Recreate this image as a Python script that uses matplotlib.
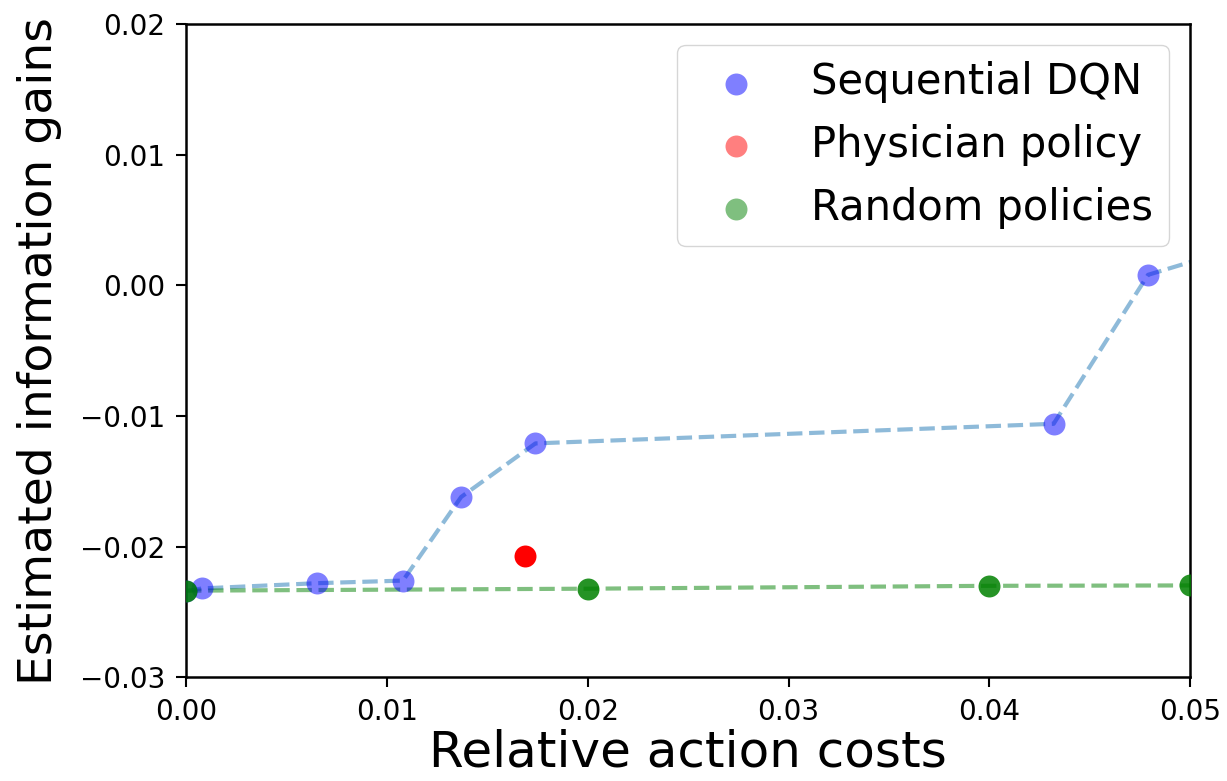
import matplotlib
matplotlib.use("Agg")
import matplotlib.pyplot as plt

# Sequential DQN (last point lies just past the x limit)
dqn_cost = [0.0, 0.0008, 0.0065, 0.0108, 0.0137, 0.0174, 0.0432, 0.0479, 0.055]
dqn_gain = [-0.0234, -0.0232, -0.0228, -0.0226, -0.0162, -0.0121, -0.0106, 0.0008, 0.0041]

# physician policy
phys_cost = [0.0169]
phys_gain = [-0.0207]

# random policies
rand_cost = [0.0, 0.02, 0.04, 0.05]
rand_gain = [-0.02337, -0.02322, -0.02300, -0.02297]

fig = plt.figure(figsize=(12.27, 7.81), dpi=100)
ax = fig.add_axes([0.1516, 0.1328, 0.8184, 0.8365])

ax.plot(dqn_cost, dqn_gain, '--', color='C0', alpha=0.5, lw=3)
ax.plot(rand_cost, rand_gain, '--', color='g', alpha=0.5, lw=3)

ax.scatter(dqn_cost, dqn_gain, s=250, color='b', alpha=0.5, lw=0, zorder=3)
ax.scatter(phys_cost, phys_gain, s=250, color='red', lw=0, zorder=3)
ax.scatter(rand_cost, rand_gain, s=250, color='green', alpha=0.85, lw=0, zorder=3)

# legend handles use the pale (alpha) versions
h1 = ax.scatter([], [], s=250, color='b', alpha=0.5, lw=0, label='Sequential DQN')
h2 = ax.scatter([], [], s=250, color='red', alpha=0.5, lw=0, label='Physician policy')
h3 = ax.scatter([], [], s=250, color='green', alpha=0.5, lw=0, label='Random policies')
ax.legend(handles=[h1, h2, h3], loc='upper right', fontsize=30, scatterpoints=1)

ax.set_xlim(0, 0.05)
ax.set_ylim(-0.03, 0.02)
ax.set_xticks([0.0, 0.01, 0.02, 0.03, 0.04, 0.05])
ax.set_yticks([-0.03, -0.02, -0.01, 0.0, 0.01, 0.02])
ax.tick_params(labelsize=20, width=1.5, length=7, pad=8)
for sp in ax.spines.values():
    sp.set_linewidth(1.8)

ax.set_xlabel('Relative action costs', fontsize=36, labelpad=2)
ax.set_ylabel('Estimated information gains', fontsize=34, labelpad=13)

fig.savefig('out.png')
